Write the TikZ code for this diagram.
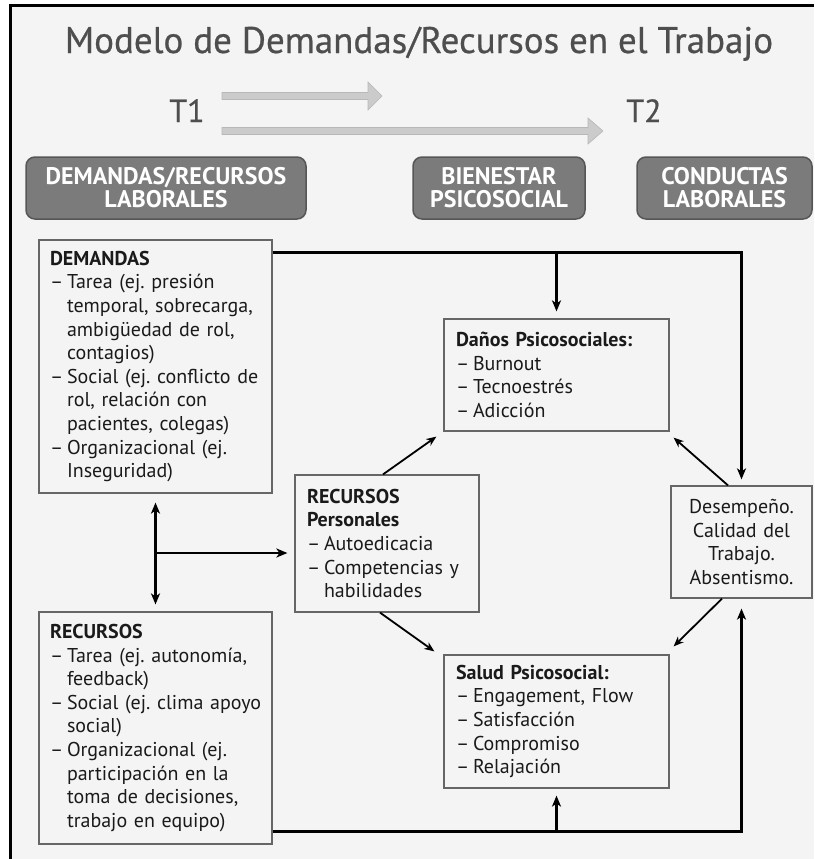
\documentclass[tikz,border=0pt]{standalone}
\usepackage{fontspec}
\setmainfont{PT Sans}
\newfontfamily\condfont{PT Sans Bold}
\newfontfamily\ttlfont[FakeBold=0.6]{PT Sans}
\usetikzlibrary{arrows.meta}
\definecolor{bg}{HTML}{F4F4F4}
\definecolor{ttl}{HTML}{4E4E4E}
\definecolor{hdr}{HTML}{7B7B7B}
\definecolor{hdrb}{HTML}{565656}
\definecolor{garr}{HTML}{CBCBCB}
\definecolor{garrb}{HTML}{B8B8B8}
\definecolor{boxb}{HTML}{666666}
\definecolor{txt}{HTML}{1A1A1A}
\newcommand{\dashi}{\makebox[17pt][l]{–}}
\newcommand{\conti}{\hspace*{17pt}}
\frenchspacing
\begin{document}
\begin{tikzpicture}[x=1pt,y=-1pt,
  hdrbox/.style={draw=hdrb, line width=1.5pt, fill=hdr, rounded corners=9pt,
    text=white, font=\condfont\fontsize{24}{23}\selectfont, align=center,
    minimum height=62pt, inner sep=0pt},
  box/.style={draw=boxb, line width=1.2pt, fill=bg, inner xsep=11pt, inner ysep=0pt,
    align=left, text=txt, font=\frenchspacing\fontsize{20}{23.6}\selectfont},
  conn/.style={line width=2.6pt, -{Stealth[length=11pt,width=9pt,inset=3pt]}},
  thin/.style={line width=1.8pt, -{Stealth[length=10pt,width=8pt,inset=3pt]}},
  garrow/.style={fill=garr, draw=garrb, line width=0.6pt}
]
\useasboundingbox (0,0) rectangle (814,859);
\fill[white] (0,0) rectangle (814,859);
\fill[bg] (10,6) rectangle (814,859);
\draw[line width=3pt, line join=miter] (10,859) -- (10,6) -- (814,6);

% title and time labels
\node[anchor=base, font=\ttlfont\fontsize{37}{40}\selectfont, text=ttl] (title) at (419,53)
  {Modelo de Demandas/Recursos en el Trabajo};
\node[anchor=base, font=\ttlfont\fontsize{32}{36}\selectfont, text=ttl] (t1) at (187,122) {T1};
\node[anchor=base, font=\ttlfont\fontsize{32}{36}\selectfont, text=ttl] (t2) at (644,122) {T2};

% grey time arrows
\draw[garrow] (222,92.5) -- (368,92.5) -- (368,82) -- (382,96) -- (368,110) -- (368,99.5) -- (222,99.5) -- cycle;
\draw[garrow] (222,127.5) -- (588,127.5) -- (588,118) -- (603,131) -- (588,144) -- (588,134.5) -- (222,134.5) -- cycle;

% header boxes
\node[hdrbox, minimum width=280pt] (h1) at (166,188) {DEMANDAS/RECURSOS\\LABORALES};
\node[hdrbox, minimum width=172pt] (h2) at (499,188) {BIENESTAR\\PSICOSOCIAL};
\node[hdrbox, minimum width=175pt] (h3) at (724.5,188) {CONDUCTAS\\LABORALES};

% content boxes
\node[box, text width=211pt, minimum height=253pt] (dem) at (155.5,366.5)
  {\textbf{DEMANDAS}\\
   \dashi Tarea (ej. presión\\
   \conti temporal, sobrecarga,\\
   \conti ambigüedad de rol,\\
   \conti contagios)\\
   \mbox{\dashi Social (ej. conflicto de}\\
   \conti rol, relación con\\
   \conti pacientes, colegas)\\
   \dashi Organizacional (ej.\\
   \conti Inseguridad)};
\node[box, text width=211pt, minimum height=232pt] (rec) at (155.5,728)
  {\textbf{RECURSOS}\\
   \mbox{\dashi Tarea (ej. autonomía,}\\
   \conti feedback)\\
   \mbox{\dashi Social (ej. clima apoyo}\\
   \conti social)\\
   \dashi Organizacional (ej.\\
   \conti participación en la\\
   \conti toma de decisiones,\\
   \conti trabajo en equipo)};
\node[box, inner xsep=12pt, text width=160pt, minimum height=137pt] (pers) at (387,543.5)
  {\textbf{RECURSOS}\\
   \textbf{Personales}\\
   \dashi Autoedicacia\\
   \mbox{\dashi Competencias y}\\
   \conti habilidades};
\node[box, inner xsep=12pt, text width=201pt, minimum height=112pt] (dano) at (556.5,375)
  {\textbf{Daños Psicosociales:}\\
   \dashi Burnout\\
   \dashi Tecnoestrés\\
   \dashi Adicción};
\node[box, inner xsep=12pt, text width=201pt, minimum height=133pt] (salud) at (556.5,721.5)
  {\textbf{Salud Psicosocial:}\\
   \dashi Engagement, Flow\\
   \dashi Satisfacción\\
   \dashi Compromiso\\
   \dashi Relajación};
\node[box, inner xsep=3pt, text width=135pt, minimum height=112pt, align=center] (des) at (741.5,542)
  {Desempeño.\\Calidad del\\Trabajo.\\Absentismo.};

% main connectors
\coordinate (topy) at ([yshift=-13pt]dem.north east);
\coordinate (boty) at ([yshift=13pt]rec.south east);
\draw[conn, shorten >=6pt] (topy) -| (des.north);
\draw[conn, shorten >=7pt] (dano.north |- topy) -- (dano.north);
\draw[conn, shorten >=10pt] (boty) -| (des.south);
\draw[conn, shorten >=7pt] (salud.south |- boty) -- (salud.south);
\draw[conn, {Stealth[length=11pt,width=9pt,inset=3pt]}-{Stealth[length=11pt,width=9pt,inset=3pt]},
  shorten <=9pt, shorten >=7pt] (dem.south) -- (rec.north);
\coordinate (jm) at (155.5,553);
\draw[conn, shorten >=7pt] (jm) -- (jm -| pers.west);

% diagonal arrows
\draw[thin] ([xshift=-4pt]pers.north) -- ([xshift=-7pt,yshift=-5pt]dano.south west);
\draw[thin] ([xshift=-7pt]pers.south) -- ([xshift=-9pt,yshift=3pt]salud.north west);
\draw[thin] ([xshift=-13.5pt]des.north) -- ([xshift=4pt,yshift=-6pt]dano.south east);
\draw[thin] ([xshift=-19.5pt]des.south) -- ([xshift=4pt,yshift=8pt]salud.north east);
\end{tikzpicture}
\end{document}
